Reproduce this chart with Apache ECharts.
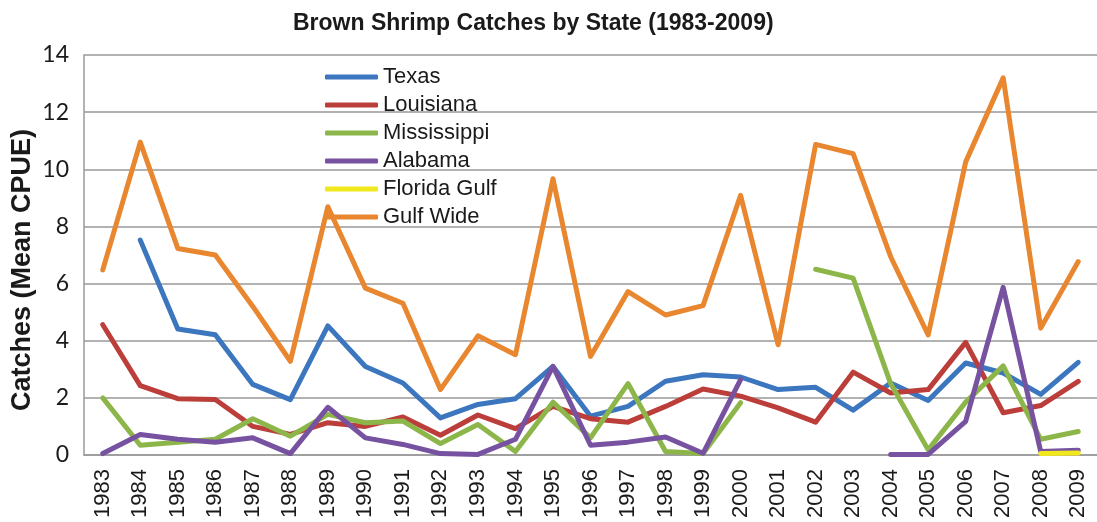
<!DOCTYPE html>
<html>
<head>
<meta charset="utf-8">
<script src="https://cdn.jsdelivr.net/npm/echarts@6/dist/echarts.min.js"></script>
<style>
html,body{margin:0;padding:0;background:#fff;}
#chart{width:1097px;height:522px;}
</style>
</head>
<body>
<div id="chart"></div>
<script>
var years = ['1983','1984','1985','1986','1987','1988','1989','1990','1991','1992','1993','1994','1995','1996','1997','1998','1999','2000','2001','2002','2003','2004','2005','2006','2007','2008','2009'];
var texas = [null,7.52,4.41,4.21,2.47,1.94,4.52,3.1,2.52,1.3,1.77,1.97,3.1,1.36,1.7,2.58,2.81,2.73,2.29,2.37,1.57,2.52,1.91,3.22,2.87,2.12,3.24];
var louisiana = [4.56,2.43,1.97,1.94,1.0,0.72,1.13,1.0,1.33,0.69,1.4,0.92,1.7,1.27,1.15,1.7,2.31,2.06,1.65,1.15,2.9,2.17,2.29,3.94,1.48,1.73,2.58];
var mississippi = [2.0,0.34,0.45,0.55,1.27,0.66,1.42,1.13,1.19,0.4,1.07,0.12,1.85,0.6,2.5,0.12,0.05,1.83,null,6.5,6.19,2.5,0.18,1.85,3.12,0.55,0.82];
var alabama = [0.05,0.72,0.55,0.45,0.6,0.05,1.67,0.6,0.37,0.05,0.02,0.55,3.1,0.34,0.45,0.63,0.06,2.64,null,null,null,0.02,0.02,1.18,5.87,0.12,0.17];
var floridaGulf = [null,null,null,null,null,null,null,null,null,null,null,null,null,null,null,null,null,null,null,null,null,null,null,null,null,0.05,0.07];
var gulfWide = [6.48,10.95,7.23,7.0,5.2,3.28,8.69,5.84,5.31,2.29,4.17,3.51,9.67,3.45,5.72,4.9,5.23,9.09,3.86,10.87,10.55,6.94,4.2,10.26,13.2,4.44,6.77];
var seriesNames = ['Texas','Louisiana','Mississippi','Alabama','Florida Gulf','Gulf Wide'];
var seriesColors = ['#3C76BE','#BC3E3A','#8DB64A','#7652A0','#F0E81C','#E8872F'];
var seriesData = [texas, louisiana, mississippi, alabama, floridaGulf, gulfWide];

var chart = echarts.init(document.getElementById('chart'));
var series = seriesNames.map(function(n, i){
  return {
    name: n, type: 'line', data: seriesData[i], showSymbol: false, symbol: 'none',
    connectNulls: false, animation: false,
    lineStyle: {color: seriesColors[i], width: 5, cap: 'round', join: 'round'},
    itemStyle: {color: seriesColors[i]}
  };
});
chart.setOption({
  animation: false,
  backgroundColor: '#fff',
  title: {
    text: 'Brown Shrimp Catches by State (1983-2009)',
    left: 288, top: 7,
    textStyle: {fontFamily: 'Liberation Sans', fontWeight: 'bold', fontSize: 23, color: '#1a1a1a'}
  },
  legend: {
    orient: 'vertical', left: 320, top: 60,
    icon: 'roundRect', itemWidth: 53, itemHeight: 5, itemGap: 4,
    textStyle: {fontFamily: 'Liberation Sans', fontSize: 22, color: '#1a1a1a', lineHeight: 24},
    data: seriesNames
  },
  grid: {left: 84, top: 55, width: 1016, bottom: 67, containLabel: false},
  xAxis: {
    type: 'category', data: years, boundaryGap: true,
    axisLine: {show: true, lineStyle: {color: '#999', width: 1.5}},
    axisTick: {show: false},
    axisLabel: {rotate: 90, margin: 14, fontFamily: 'Liberation Sans', fontSize: 22, color: '#1a1a1a', interval: 0}
  },
  yAxis: {
    type: 'value', min: 0, max: 14, interval: 2,
    axisLine: {show: true, lineStyle: {color: '#999', width: 1.5}},
    axisTick: {show: false},
    splitLine: {lineStyle: {color: '#999', width: 1.5}},
    axisLabel: {margin: 15, fontFamily: 'Lato', fontSize: 23, color: '#1a1a1a'}
  },
  graphic: [{
    type: 'text', x: 23, y: 270, rotation: Math.PI/2,
    style: {text: 'Catches (Mean CPUE)', fill: '#1a1a1a', font: 'bold 27px "Liberation Sans"', align: 'center', verticalAlign: 'middle'}
  }],
  series: series
});
</script>
</body>
</html>
